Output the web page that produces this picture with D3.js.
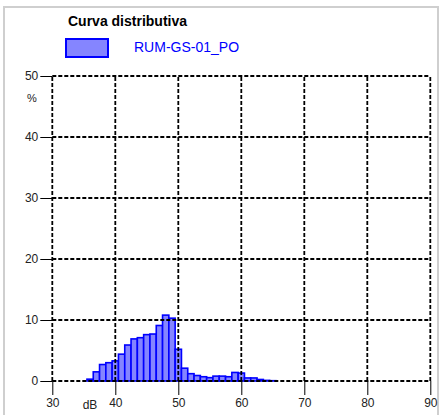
<!DOCTYPE html>
<html>
<head>
<meta charset="utf-8">
<script src="https://cdn.jsdelivr.net/npm/d3@7"></script>
<style>
  html, body { margin: 0; padding: 0; background: #fff; }
  svg { display: block; }
  text { font-family: Arial, "Liberation Sans", sans-serif; }
</style>
</head>
<body>
<svg id="chart" width="443" height="415"></svg>
<script>
// Level classes (dB, bin centres) and share of time in each class (%)
const levels = [36, 37, 38, 39, 40, 41, 42, 43, 44, 45, 46, 47, 48, 49, 50,
                51, 52, 53, 54, 55, 56, 57, 58, 59, 60, 61, 62, 63, 64, 65];
const shares = [0.3, 1.5, 2.7, 3.0, 3.3, 4.4, 5.9, 6.9, 7.1, 7.6, 7.7, 9.1, 10.8, 10.3, 5.2,
                2.1, 1.2, 0.9, 0.7, 0.55, 0.8, 0.8, 0.7, 1.4, 1.3, 0.5, 0.5, 0.25, 0.1, 0.05];
const xTicks = [30, 40, 50, 60, 70, 80, 90];
const yTicks = [0, 10, 20, 30, 40, 50];
const title = "Curva distributiva";
const seriesName = "RUM-GS-01_PO";

const svg = d3.select("#chart");
const font = "Arial, 'Liberation Sans', sans-serif";

// outer frame
svg.append("rect")
  .attr("x", 4).attr("y", 7).attr("width", 434).attr("height", 412)
  .attr("fill", "none").attr("stroke", "#cfcfcf").attr("stroke-width", 2);

const x = d3.scaleLinear().domain([30, 90]).range([52.3, 430.3]);
const y = d3.scaleLinear().domain([0, 50]).range([381, 76]);

// title and legend
svg.append("text").attr("x", 68).attr("y", 26)
  .attr("font-size", 14).attr("font-weight", "bold").attr("fill", "#000")
  .text(title);
svg.append("rect").attr("x", 66).attr("y", 39).attr("width", 42).attr("height", 18)
  .attr("fill", "#8585ff").attr("stroke", "#0000ff").attr("stroke-width", 2);
svg.append("text").attr("x", 134).attr("y", 52)
  .attr("font-size", 14).attr("fill", "#0000ff")
  .text(seriesName);

// bars
const bw = x(1) - x(0);
svg.append("g").selectAll("rect")
  .data(levels.map((l, i) => ({ l, v: shares[i] })))
  .join("rect")
  .attr("x", d => x(d.l - 0.5))
  .attr("y", d => y(d.v))
  .attr("width", bw)
  .attr("height", d => y(0) - y(d.v))
  .attr("fill", "#8585ff")
  .attr("stroke", "#0000ff")
  .attr("stroke-width", 1.6);

// dashed grid
const grid = svg.append("g").attr("stroke", "#000").attr("stroke-width", 1.8)
  .attr("stroke-dasharray", "4,2");
grid.selectAll("line.h").data(yTicks).join("line")
  .attr("x1", x(30)).attr("x2", x(90))
  .attr("y1", d => y(d)).attr("y2", d => y(d));
grid.selectAll("line.v").data(xTicks).join("line")
  .attr("y1", y(0)).attr("y2", y(50))
  .attr("x1", d => x(d)).attr("x2", d => x(d));

// axes
const yAxis = d3.axisLeft(y).tickValues(yTicks).tickSize(12).tickPadding(2);
const gy = svg.append("g").attr("transform", `translate(${x(30)},0)`).call(yAxis);
gy.select(".domain").remove();
gy.selectAll("line").attr("stroke", "#000");
gy.selectAll("text").attr("font-size", 12).attr("fill", "#222").attr("font-family", font);

const xAxis = d3.axisBottom(x).tickValues(xTicks).tickSize(14).tickPadding(3);
const gx = svg.append("g").attr("transform", `translate(0,${y(0)})`).call(xAxis);
gx.select(".domain").remove();
gx.selectAll("line").attr("stroke", "#000");
gx.selectAll("text").attr("font-size", 12).attr("fill", "#222").attr("font-family", font);

// unit labels
svg.append("text").attr("x", 32).attr("y", 102).attr("font-size", 11)
  .attr("fill", "#222").attr("text-anchor", "middle").text("%");
svg.append("text").attr("x", 90).attr("y", 409).attr("font-size", 12)
  .attr("fill", "#222").attr("text-anchor", "middle").text("dB");
</script>
</body>
</html>
